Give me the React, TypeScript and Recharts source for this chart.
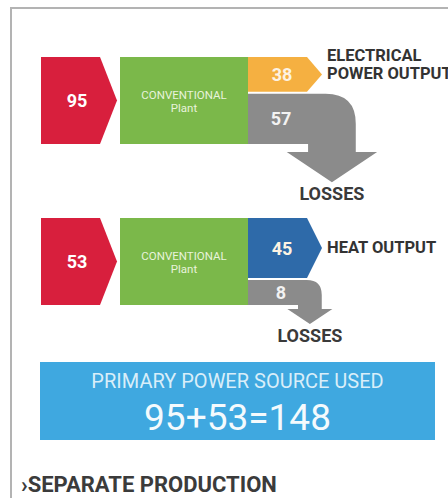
import { BarChart, Bar, XAxis, YAxis } from 'recharts'

// separate production: two conventional plants
const rowNames = ['Electricity', 'Heat']
const inputs = [95, 53]
const outputs = [38, 45]
const losses = [57, 8]
const outputLabels = [['ELECTRICAL', 'POWER OUTPUT'], ['HEAT OUTPUT']]
const plantLabels = ['CONVENTIONAL', 'Plant']
const lossLabel = 'LOSSES'
const totalLabel = 'PRIMARY POWER SOURCE USED'
const footerLabel = '›SEPARATE PRODUCTION'

const RED = '#d81f3d'
const GREEN = '#7bb84a'
const OUT_COLORS = ['#f5b041', '#2e6aa9']
const GRAY = '#8b8b8b'
const SKY = '#3fa8e0'
const FONT = 'Roboto, "Open Sans", sans-serif'

const data = rowNames.map((name, i) => ({
  name,
  input: inputs[i],
  output: outputs[i],
  loss: losses[i],
  outLabel: outputLabels[i],
  color: OUT_COLORS[i],
}))

function FlowRow(props: any) {
  const { x, y, height, payload } = props
  const h = height
  const gap = 2
  const outH = Math.min(h - gap - 25, Math.max(31, (h * payload.output) / payload.input))
  const lossTop = y + outH + gap
  const lossBot = y + h
  const s = lossBot - lossTop

  // red input arrow
  const red = `M${x},${y} L${x + 59},${y} L${x + 76},${y + h / 2} L${x + 59},${y + h} L${x},${y + h} Z`
  // output arrow
  const ox = x + 207
  const tipY = y + outH / 2
  const out = `M${ox},${y} L${ox + 59},${y} L${ox + 74},${tipY} L${ox + 59},${y + outH} L${ox},${y + outH} Z`
  // loss arrow bending downward
  const inner = ox + 40 + 0.4 * s
  const outer = inner + 0.95 * s
  const mid = (inner + outer) / 2
  const r = 0.6 * s
  const headTop = lossBot + 0.16 * s
  const headHalf = 0.9 * s
  const tip = headTop + 0.6 * s
  const loss = `M${ox},${lossTop} L${outer - r},${lossTop} Q${outer},${lossTop} ${outer},${lossTop + r} L${outer},${headTop} L${mid + headHalf},${headTop} L${mid},${tip} L${mid - headHalf},${headTop} L${inner},${headTop} L${inner},${lossBot} L${ox},${lossBot} Z`

  const lines: string[] = payload.outLabel
  return (
    <g>
      <path d={red} fill={RED} />
      <text x={x + 36} y={y + h / 2} textAnchor="middle" dominantBaseline="central" fill="#fff" fontSize={18} fontWeight={700} fontFamily={FONT}>
        {payload.input}
      </text>
      <rect x={x + 79} y={y} width={128} height={h} fill={GREEN} />
      {plantLabels.map((t, i) => (
        <text key={t} x={x + 143} y={y + h / 2 - 5.5 + i * 13} textAnchor="middle" dominantBaseline="central" fill="#e8f3dc" fontSize={11.5} fontFamily={FONT}>
          {t}
        </text>
      ))}
      <path d={out} fill={payload.color} />
      <text x={ox + 34} y={tipY} textAnchor="middle" dominantBaseline="central" fill="#fdf3e3" fontSize={18} fontWeight={700} fontFamily={FONT}>
        {payload.output}
      </text>
      <path d={loss} fill={GRAY} />
      <text x={ox + 33} y={(lossTop + lossBot) / 2} textAnchor="middle" dominantBaseline="central" fill="#f2f2f2" fontSize={18} fontWeight={700} fontFamily={FONT}>
        {payload.loss}
      </text>
      <text x={mid} y={tip + 11} textAnchor="middle" dominantBaseline="central" fill="#3a3a3a" fontSize={18} fontWeight={700} fontFamily={FONT}>
        {lossLabel}
      </text>
      {lines.map((t, i) => (
        <text key={t} x={x + 286} y={tipY - (lines.length - 1 - i) * 18 - 1} dominantBaseline="central" fill="#333" fontSize={16.5} fontWeight={700} fontFamily={FONT}>
          {t}
        </text>
      ))}
    </g>
  )
}

export default function App() {
  const total = inputs.reduce((a, b) => a + b, 0)
  return (
    <div style={{ position: 'fixed', left: 0, top: 0, width: 448, height: 498, overflow: 'hidden', background: '#fff', fontFamily: FONT }}>
      <div style={{ position: 'absolute', left: 10, top: 7, width: 438, height: 2, background: '#b3b3b3' }} />
      <div style={{ position: 'absolute', left: 10, top: 7, width: 2, height: 491, background: '#b3b3b3' }} />
      <div style={{ position: 'absolute', left: 0, top: 0 }}>
        <BarChart layout="vertical" width={448} height={350} data={data} margin={{ top: 20, right: 0, bottom: 8, left: 41 }}>
          <XAxis type="number" hide domain={[0, 100]} />
          <YAxis type="category" dataKey="name" hide />
          <Bar dataKey="input" barSize={87} isAnimationActive={false} shape={FlowRow} />
        </BarChart>
      </div>
      <div style={{ position: 'absolute', left: 40, top: 362, width: 395, height: 78, background: SKY, color: '#fff', textAlign: 'center' }}>
        <div style={{ position: 'absolute', left: 0, right: 0, top: 8, fontSize: 20, lineHeight: '22px', color: '#d9eef9' }}>{totalLabel}</div>
        <div style={{ position: 'absolute', left: 0, right: 0, top: 36, fontSize: 37, lineHeight: '40px', color: '#f4fafd' }}>
          {inputs.join('+')}={total}
        </div>
      </div>
      <div style={{ position: 'absolute', left: 21, top: 472, fontSize: 22, lineHeight: '26px', fontWeight: 700, color: '#3b3b3b' }}>{footerLabel}</div>
    </div>
  )
}
